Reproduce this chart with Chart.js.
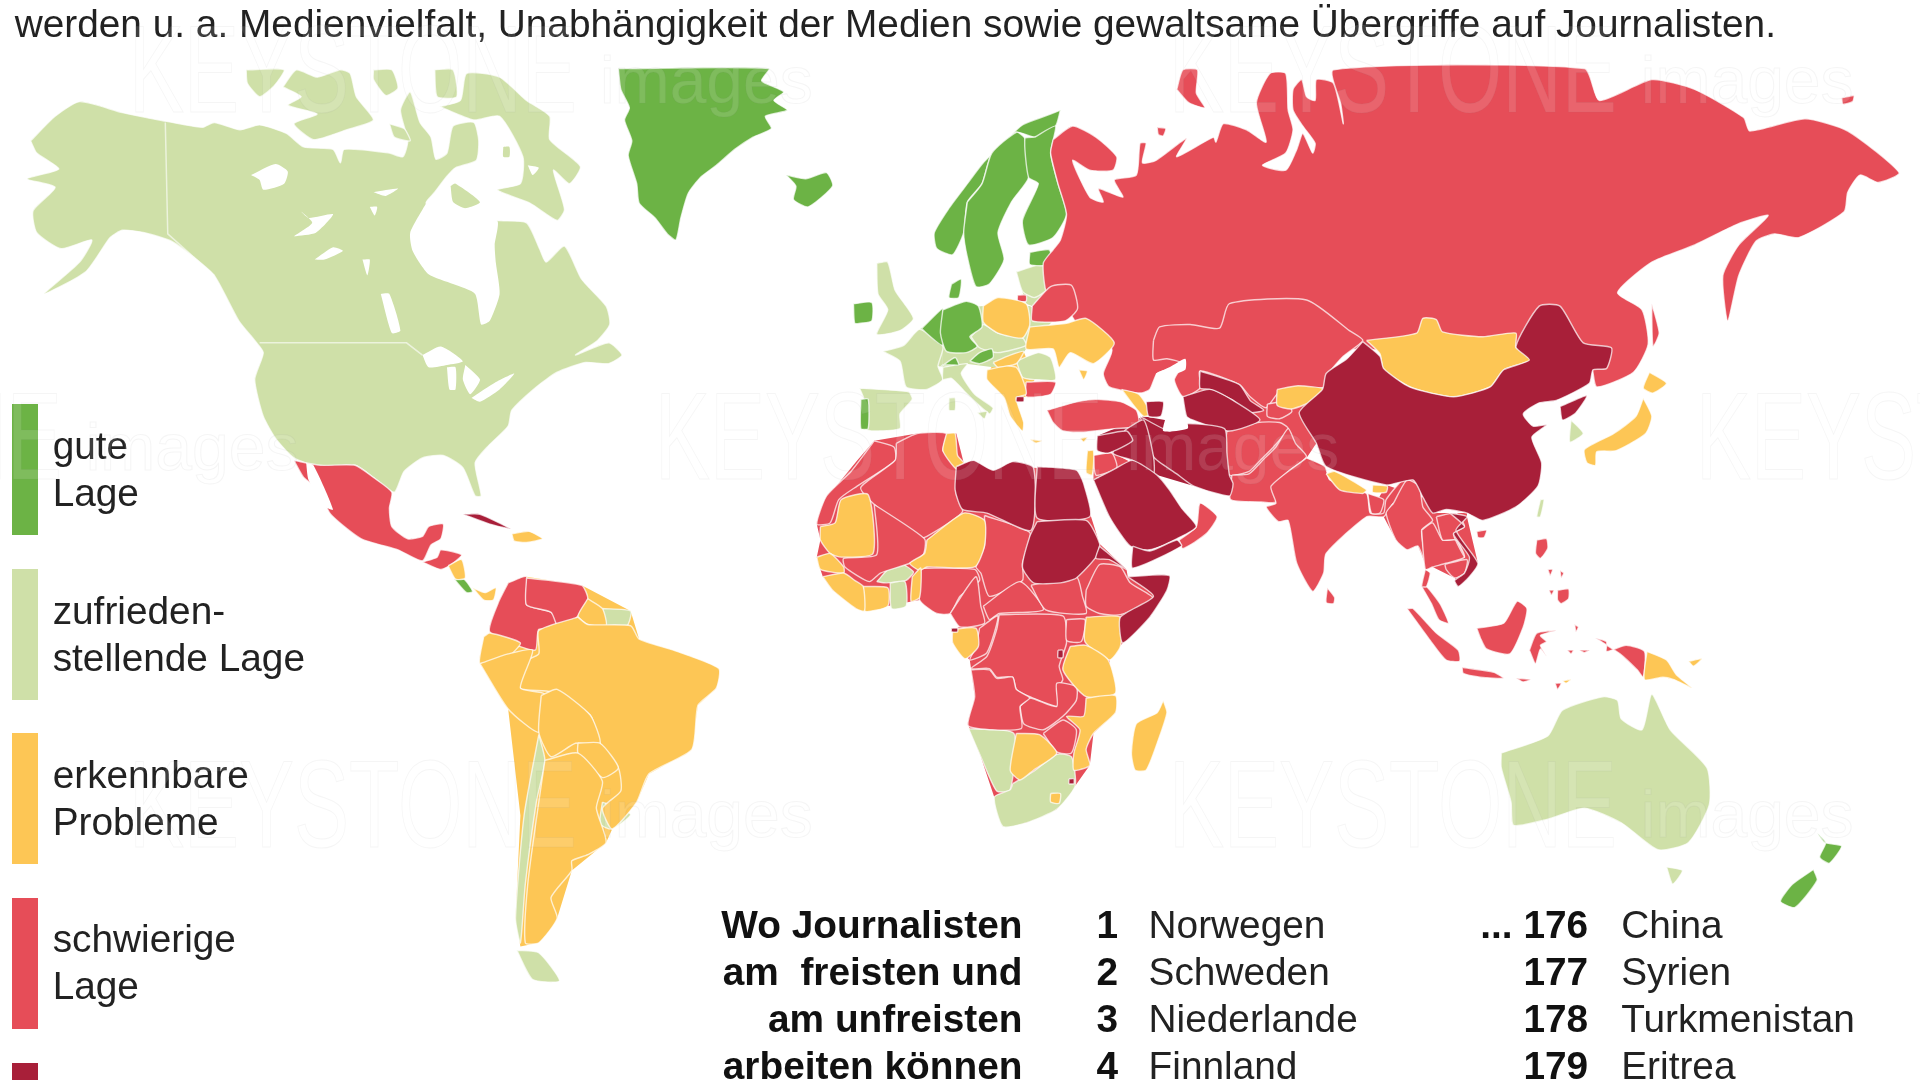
<!DOCTYPE html>
<html lang="de">
<head>
  <meta charset="UTF-8" />
  <title>Pressefreiheit weltweit</title>
  <script src="https://cdn.jsdelivr.net/npm/chart.js"></script>
  <style>
    html, body { margin: 0; padding: 0; background: #fff; }
    #stage { position: relative; width: 1920px; height: 1080px; overflow: hidden; font-family: "Liberation Sans", Arial, sans-serif; color: #222; }
    #map { position: absolute; left: 0; top: 0; filter: blur(0.7px); }
    .txt { position: absolute; white-space: pre; line-height: 1; font-size: 38.8px; transform: translateY(-50%); filter: blur(0.5px); }
    .bold { font-weight: bold; color: #111; }
    .right { transform: translate(-100%, -50%); }
    .swatch { position: absolute; width: 26px; }
    .mark { position: absolute; white-space: pre; color: rgba(255,255,255,0.13); -webkit-text-stroke: 1px rgba(130,130,130,0.08); transform-origin: left top; line-height: 1; }
  </style>
</head>
<body>
<div id="stage">
  <canvas id="map" width="1920" height="1080"></canvas>
</div>
<script>
  const titleLine = 'werden u. a. Medienvielfalt, Unabhängigkeit der Medien sowie gewaltsame Übergriffe auf Journalisten.';
  const legendLabels = [['gute', 'Lage'], ['zufrieden-', 'stellende Lage'], ['erkennbare', 'Probleme'], ['schwierige', 'Lage']];
  const headLines = ['Wo Journalisten', 'am  freisten und', 'am unfreisten', 'arbeiten können'];
  const topRanks = ['1', '2', '3', '4'];
  const topNames = ['Norwegen', 'Schweden', 'Niederlande', 'Finnland'];
  const lowRanks = ['... 176', '177', '178', '179'];
  const lowNames = ['China', 'Syrien', 'Turkmenistan', 'Eritrea'];

  const GOOD = '#6cb345', OK = '#cfe0a8', PROBLEM = '#fdc655', HARD = '#e64d58', WORST = '#a81f39';

  // Nordamerika
  const northAmerica = [[25,115],[45,95],[65,83],[100,92],[130,98],[165,104],[175,100],[196,106],[212,102],[234,109],[248,120],[272,122],[278,133],[281,122],[318,125],[329,128],[333,115],[327,90],[335,75],[343,100],[352,112],[356,130],[365,125],[370,103],[387,100],[391,115],[389,131],[372,137],[365,144],[355,157],[348,166],[372,172],[406,180],[430,182],[441,204],[446,214],[461,201],[475,228],[495,250],[498,265],[488,278],[470,290],[497,280],[508,290],[497,297],[478,296],[455,304],[438,316],[418,335],[415,348],[398,365],[388,378],[393,405],[388,405],[378,382],[362,372],[345,374],[330,385],[322,402],[305,390],[290,380],[260,381],[240,374],[225,358],[215,340],[208,310],[215,288],[208,278],[195,262],[175,225],[158,210],[140,197],[118,190],[100,188],[90,194],[70,222],[36,240],[65,214],[75,196],[50,203],[30,190],[27,172],[45,153],[22,146],[48,138],[30,125]];
  const baffin = [[359,87],[376,82],[381,60],[408,63],[430,82],[449,95],[449,114],[474,136],[465,150],[452,139],[461,171],[455,180],[433,166],[406,155],[425,150],[427,128],[408,95],[387,98]];
  const banks = [[201,57],[232,57],[224,70],[212,79],[202,68]];
  const victoria = [[231,71],[242,57],[259,63],[278,57],[286,60],[291,79],[305,98],[283,106],[256,114],[240,101],[259,93],[235,86],[246,79]];
  const arctic3 = [[305,57],[320,57],[325,72],[315,78],[305,65]];
  const arctic4 = [[318,101],[330,105],[335,115],[322,112]];
  const ellesmere = [[355,57],[370,57],[373,79],[357,79]];
  const southampton = [[368,152],[372,150],[392,165],[380,170],[370,165]];
  const foxeIsle = [[411,120],[416,120],[416,128],[411,128]];
  const hudsonBay = [[348,166],[365,163],[372,170],[406,180],[404,200],[405,215],[408,240],[400,262],[393,265],[388,240],[370,232],[350,224],[337,205],[335,190]];
  const greatBear = [[205,143],[225,134],[235,140],[232,150],[215,155],[212,147]];
  const greatSlave = [[240,193],[255,182],[245,172],[252,178],[272,175],[258,190]];
  const athabasca = [[257,212],[272,202],[280,205],[265,212]];
  const reindeer = [[296,212],[302,212],[300,225]];
  const dubawnt = [[302,169],[308,169],[306,176]];
  const baffinLake = [[431,135],[440,137],[435,143]];
  const thelon = [[305,157],[325,154],[315,160]];
  const winnipeg = [[311,240],[318,240],[327,270],[320,272]];
  const superior = [[345,290],[360,283],[378,295],[365,298],[350,300]];
  const michigan = [[365,300],[372,300],[372,318],[367,318]];
  const huron = [[380,298],[392,310],[384,322],[378,310]];
  const erie = [[385,325],[405,312],[420,305],[408,318],[392,328]];
  const greenland = [[505,56],[628,56],[622,66],[640,75],[632,82],[643,90],[625,95],[630,105],[615,112],[600,122],[585,135],[572,145],[562,158],[556,178],[552,196],[545,191],[535,178],[522,166],[520,150],[513,127],[516,115],[510,98],[514,88],[507,73]];
  const iceland = [[642,143],[658,146],[675,141],[680,152],[660,169],[648,163],[650,152]];

  // Mittelamerika und Karibik
  const mexico = [[240,376],[262,380],[290,380],[305,390],[320,402],[318,415],[320,430],[333,440],[345,438],[350,430],[362,428],[360,440],[352,445],[345,458],[325,449],[295,440],[270,420],[260,400],[248,390]];
  const gulfCalifornia = [[250,378],[256,380],[272,416],[266,414],[252,392]];
  const honduras = [[345,459],[357,455],[360,449],[377,453],[370,460],[360,465]];
  const nicaragua = [[366,462],[377,457],[380,472],[372,473]];
  const costaRica = [[371,473],[379,473],[386,483],[381,484]];
  const panama = [[386,480],[396,484],[405,480],[403,490],[395,490]];
  const cuba = [[378,420],[392,420],[417,432],[400,428]];
  const hispaniola = [[418,436],[432,434],[443,440],[430,443],[420,442]];

  // Südamerika
  const southAmericaBase = [[392,542],[400,516],[407,492],[415,476],[430,471],[475,478],[515,499],[522,522],[587,546],[585,562],[570,576],[565,612],[530,632],[520,655],[500,677],[495,688],[467,711],[455,750],[440,770],[425,773],[421,750],[425,666],[415,579]];
  const colombia = [[415,476],[430,471],[430,494],[450,500],[460,515],[440,514],[437,531],[400,516],[407,492]];
  const venezuela = [[430,472],[475,478],[480,489],[472,503],[457,515],[450,500],[430,494]];
  const guyana = [[480,489],[492,497],[495,511],[480,510],[472,503]];
  const suriname = [[492,497],[515,499],[512,511],[495,511]];
  const brazil = [[472,504],[480,510],[515,511],[522,522],[550,531],[587,546],[585,562],[570,576],[565,612],[530,632],[520,655],[500,677],[492,660],[507,646],[505,627],[490,607],[482,584],[450,565],[425,562],[425,542],[440,534],[440,515]];
  const ecuador = [[395,520],[400,517],[425,525],[415,536],[392,542]];
  const peru = [[392,542],[415,534],[435,531],[425,562],[445,567],[440,598],[415,579]];
  const bolivia = [[442,568],[455,563],[482,584],[490,607],[470,607],[450,618],[440,598]];
  const paraguay = [[472,607],[490,607],[505,627],[492,635],[472,615]];
  const chile = [[440,600],[445,621],[438,655],[429,722],[425,770],[421,750],[428,666]];
  const fireland = [[422,776],[440,778],[457,801],[435,800]];
  const argentina = [[445,621],[472,615],[492,638],[487,660],[495,688],[480,698],[467,703],[467,711],[450,733],[455,750],[440,770],[429,770],[431,722],[440,655]];
  const uruguay = [[492,655],[515,665],[500,677],[490,673]];

  // Europa
  const norway = [[866,90],[853,95],[835,102],[818,118],[803,133],[790,150],[775,170],[763,190],[765,203],[778,208],[787,190],[790,165],[802,150],[810,125],[830,108],[845,112],[862,103]];
  const sweden = [[790,165],[802,150],[810,125],[830,108],[837,113],[840,145],[826,165],[815,190],[820,212],[808,232],[797,234],[790,210],[787,190]];
  const finland = [[845,112],[862,103],[858,125],[864,150],[871,175],[860,194],[840,200],[835,180],[848,150],[840,145],[837,113]];
  const denmark = [[777,232],[785,228],[783,243],[775,243]];
  const estonia = [[841,206],[857,204],[858,216],[841,216]];
  const balticBase = [[830,222],[860,215],[858,234],[843,250],[838,248]];
  const baltics = [[830,222],[845,217],[860,215],[860,232],[845,243],[835,238]];
  const kaliningrad = [[831,241],[838,241],[838,246],[831,246]];
  const britain = [[716,215],[725,214],[731,237],[746,260],[735,270],[716,273],[725,253],[717,240]];
  const ireland = [[697,248],[712,247],[712,262],[703,264],[698,264]];
  const franceBase = [[751,269],[770,253],[770,300],[766,299]];
  const europeBase = [[770,253],[803,250],[841,250],[860,262],[838,285],[830,296],[811,300],[789,297],[770,300]];
  const france = [[721,287],[738,282],[751,269],[770,283],[766,299],[770,310],[757,318],[740,316],[735,295]];
  const benelux = [[753,268],[765,256],[770,252],[770,282],[752,268]];
  const germany = [[770,253],[789,246],[799,250],[802,267],[792,275],[798,283],[789,288],[773,287],[768,272]];
  const switzerland = [[768,300],[780,292],[783,298],[778,298],[770,298]];
  const austria = [[792,295],[800,288],[810,285],[811,292],[800,297]];
  const spain = [[702,317],[742,320],[745,326],[735,338],[735,350],[712,352],[706,350],[707,330]];
  const portugal = [[703,326],[709,326],[709,350],[703,350]];
  const italy = [[770,300],[790,297],[785,305],[796,322],[811,333],[808,338],[790,322],[777,309],[770,310]];
  const sardinia = [[775,325],[780,325],[780,335],[775,335]];
  const sicily = [[798,337],[806,336],[804,342]];
  const poland = [[803,250],[815,243],[838,248],[841,265],[835,276],[815,272],[803,263]];
  const centralEurope = [[793,275],[803,265],[815,272],[835,276],[838,282],[815,288],[800,284]];
  const belarus = [[843,250],[858,234],[875,233],[880,252],[870,262],[843,262]];
  const ukraine = [[841,267],[871,264],[887,260],[910,280],[893,297],[874,288],[865,300],[860,285],[838,285]];
  const crimea = [[881,302],[888,303],[885,310]];
  const romania = [[830,295],[848,288],[858,292],[862,310],[845,310],[835,308]];
  const bulgaria = [[838,312],[862,312],[858,322],[838,324]];
  const balkanBase = [[811,296],[836,287],[845,310],[838,324],[830,325],[806,310]];
  const hungary = [[811,296],[825,290],[836,287],[830,297],[815,300]];
  const balkans = [[806,302],[822,299],[830,300],[836,312],[838,322],[830,325],[836,345],[835,352],[825,340],[820,325],[806,310]];
  const macedonia = [[830,324],[836,324],[836,328],[830,328]];
  const crete = [[841,359],[851,360],[846,362]];
  const cyprus = [[882,358],[888,357],[885,361]];

  // Russland, Vorderasien und Zentralasien
  const russia = [[860,114],[876,103],[895,112],[912,128],[909,139],[890,139],[876,131],[890,161],[901,165],[897,154],[917,161],[910,147],[928,143],[931,117],[936,117],[933,133],[944,131],[969,113],[961,128],[991,112],[993,116],[999,101],[1018,106],[1034,116],[1026,84],[1037,60],[1050,60],[1052,90],[1056,106],[1050,125],[1031,135],[1050,139],[1059,122],[1064,109],[1072,125],[1074,117],[1064,103],[1056,90],[1056,73],[1063,65],[1067,79],[1074,82],[1075,65],[1089,68],[1097,101],[1095,85],[1089,57],[1294,56],[1306,82],[1349,65],[1384,73],[1424,96],[1429,107],[1474,97],[1509,107],[1551,141],[1534,149],[1519,143],[1509,157],[1506,173],[1469,194],[1449,191],[1434,197],[1420,225],[1411,262],[1407,225],[1420,200],[1444,176],[1419,183],[1384,200],[1349,214],[1321,239],[1341,253],[1346,281],[1334,304],[1304,316],[1300,300],[1290,285],[1260,270],[1244,285],[1200,295],[1114,285],[1060,290],[1000,290],[960,300],[945,305],[939,318],[931,321],[906,316],[901,305],[908,285],[880,265],[870,250],[855,240],[852,215],[860,204],[866,196],[871,175],[864,150],[858,125]];
  const novayaZemlya = [[961,73],[966,57],[978,57],[977,76],[984,88],[971,84]];
  const kolguev = [[945,104],[952,105],[950,111],[946,110]];
  const wrangel = [[1504,80],[1514,78],[1513,83],[1505,85]];
  const sakhalin = [[1349,248],[1355,272],[1350,283],[1349,261]];
  const kazakhstan = [[942,278],[947,267],[972,265],[996,268],[1004,248],[1067,245],[1102,270],[1113,278],[1097,291],[1086,304],[1083,316],[1045,320],[1034,333],[1021,324],[1012,314],[980,303],[980,317],[966,324],[959,310],[966,297],[953,293],[942,294]];
  const centralAsiaBase = [[966,324],[980,303],[1083,316],[1075,362],[1067,374],[1040,397],[1042,411],[1005,408],[1002,352]];
  const uzbekistan = [[980,303],[1012,314],[1021,327],[1032,335],[1018,337],[1007,327],[988,318],[980,317]];
  const turkmenistan = [[966,324],[988,318],[1007,327],[1029,343],[1004,352],[974,343],[969,340]];
  const kyrgyzstan = [[1043,318],[1060,315],[1083,318],[1075,326],[1055,334],[1043,331]];
  const tajikistan = [[1035,330],[1050,328],[1055,336],[1045,342],[1035,340]];
  const afghanistan = [[1002,352],[1027,345],[1045,345],[1052,350],[1040,365],[1030,375],[1020,385],[1004,388],[1000,370]];
  const pakistan = [[1006,388],[1020,387],[1032,375],[1042,365],[1052,350],[1058,362],[1067,373],[1052,385],[1040,397],[1042,410],[1030,410],[1005,408]];
  const midEastBase = [[896,356],[934,340],[1002,352],[1007,395],[1004,405],[975,397],[942,387],[925,376],[909,370]];
  const levantBase = [[893,372],[909,370],[942,387],[945,388],[912,382],[893,392]];
  const iran = [[931,340],[955,352],[966,346],[1000,350],[1002,370],[1004,388],[1007,395],[1004,405],[975,397],[961,387],[942,373]];
  const iraq = [[919,351],[934,343],[942,373],[942,387],[925,376],[909,370]];
  const syria = [[896,356],[920,352],[925,360],[905,370],[896,368]];
  const lebanon = [[888,368],[893,368],[892,388],[887,386]];
  const jordan = [[893,372],[908,370],[912,382],[895,388]];
  const saudi = [[893,392],[912,382],[925,376],[945,388],[955,400],[965,415],[977,430],[961,440],[939,449],[923,446],[906,422]];
  const yemen = [[925,446],[939,450],[961,441],[965,446],[925,464]];
  const oman = [[963,441],[977,430],[980,411],[994,422],[985,436],[966,448]];
  const turkey = [[855,335],[880,328],[895,326],[915,328],[928,335],[930,348],[910,350],[885,353],[868,352],[860,345]];
  const georgia = [[916,318],[930,322],[940,338],[934,340],[925,330]];
  const azerbaijan = [[936,328],[950,328],[948,340],[938,340]];
  const caspian = [[944,305],[955,300],[968,293],[968,302],[955,308],[958,325],[968,340],[970,350],[950,352],[952,340],[950,325],[943,315]];

  // Afrika
  const africaBase = [[667,428],[678,403],[700,376],[714,360],[749,354],[781,354],[787,378],[811,384],[844,382],[879,384],[898,444],[920,465],[921,471],[955,470],[953,482],[939,504],[917,525],[906,539],[911,582],[893,599],[890,625],[878,642],[863,661],[838,672],[819,675],[812,651],[801,618],[791,593],[796,569],[793,546],[792,539],[778,525],[778,514],[784,512],[776,501],[765,501],[751,490],[725,495],[706,499],[699,497],[680,482],[672,471],[670,465],[667,455],[670,441]];
  const morocco = [[714,360],[730,365],[731,376],[700,397],[685,408],[678,427],[667,428],[675,405],[695,385]];
  const algeria = [[732,362],[749,354],[773,354],[770,368],[781,378],[781,403],[786,418],[757,438],[748,440],[713,411],[703,398],[731,376]];
  const tunisia = [[773,354],[780,354],[782,372],[787,378],[781,383],[770,368]];
  const libya = [[781,381],[795,376],[811,384],[827,377],[844,382],[842,433],[806,419],[786,416],[780,400]];
  const egypt = [[847,381],[879,384],[885,395],[890,422],[847,423]];
  const sudan = [[847,426],[887,425],[898,444],[895,455],[879,472],[866,476],[844,476],[835,463],[841,438]];
  const eritrea = [[898,446],[920,465],[906,457],[895,456]];
  const somalia = [[921,471],[955,470],[953,482],[939,504],[917,525],[915,504],[942,487]];
  const ethiopia = [[887,482],[898,461],[915,463],[923,476],[942,489],[915,502],[898,501],[887,495]];
  const mauritania = [[670,430],[682,427],[687,408],[709,404],[713,452],[687,455],[678,452],[670,441]];
  const mali = [[714,412],[755,440],[754,453],[743,460],[719,468],[710,475],[690,463],[689,456],[716,453]];
  const niger = [[757,441],[787,419],[804,425],[804,446],[796,463],[757,463],[751,466],[743,460],[755,452]];
  const chad = [[804,421],[841,435],[835,460],[835,474],[808,487],[801,468],[797,463],[804,446]];
  const nigeria = [[752,464],[796,465],[800,474],[784,487],[776,501],[765,501],[751,490]];
  const burkina = [[716,475],[732,459],[746,467],[740,474],[724,476]];
  const ghana = [[727,476],[739,475],[740,495],[728,497]];
  const benin = [[745,471],[752,464],[751,488],[744,491]];
  const ivoryCoast = [[705,479],[725,480],[725,495],[706,499]];
  const senegal = [[667,455],[678,452],[689,463],[689,468],[670,465]];
  const guinea = [[672,471],[689,468],[698,474],[705,479],[706,499],[699,497],[680,482]];
  const cameroon = [[776,501],[797,471],[801,495],[804,509],[784,512]];
  const centralAfrica = [[803,495],[833,475],[852,498],[816,501],[808,506]];
  const southSudan = [[842,478],[879,471],[884,487],[887,501],[854,498]];
  const congoDR = [[816,502],[868,503],[871,525],[865,544],[868,555],[863,563],[865,577],[841,569],[830,563],[827,553],[814,553],[808,546],[793,546],[806,536],[814,514]];
  const congo = [[800,513],[815,503],[806,533],[792,539],[797,528]];
  const gabon = [[778,514],[797,513],[799,528],[788,538],[778,525]];
  const uganda = [[871,506],[886,506],[883,524],[871,523]];
  const kenya = [[887,504],[915,504],[915,528],[906,539],[886,524]];
  const tanzania = [[874,528],[887,527],[905,539],[911,566],[887,569],[868,547]];
  const mozambique = [[887,570],[911,568],[911,582],[893,599],[887,612],[890,625],[877,629],[877,615],[882,596],[871,585],[885,585]];
  const zambia = [[833,577],[841,570],[863,577],[863,558],[879,561],[879,572],[868,585],[852,596],[836,591]];
  const zimbabwe = [[852,599],[868,588],[879,596],[875,615],[863,614]];
  const angola = [[793,547],[808,547],[814,554],[827,553],[830,563],[841,570],[833,577],[834,595],[791,593],[796,569]];
  const namibia = [[791,595],[828,599],[825,645],[814,646],[801,618]];
  const botswana = [[830,599],[849,600],[863,615],[844,629],[833,637],[825,629]];
  const southAfrica = [[827,640],[844,630],[863,616],[875,618],[878,642],[863,661],[838,672],[819,675],[812,651],[825,645]];
  const lesotho = [[858,648],[866,648],[865,656],[858,655]];
  const swaziland = [[873,636],[877,636],[877,640],[873,640]];
  const rwanda = [[864,531],[868,531],[868,537],[864,537]];
  const eqGuinea = [[777,513],[782,513],[782,516],[777,516]];
  const madagascar = [[950,572],[953,582],[945,607],[936,629],[927,629],[924,615],[928,591],[945,582]];

  // Süd- und Ostasien
  const china = [[1113,279],[1127,291],[1130,301],[1151,316],[1187,324],[1217,316],[1228,302],[1249,294],[1238,283],[1257,250],[1274,250],[1293,280],[1316,284],[1312,301],[1301,302],[1298,313],[1271,327],[1257,329],[1244,338],[1252,348],[1263,347],[1251,357],[1259,378],[1256,397],[1238,414],[1211,425],[1198,419],[1181,416],[1170,419],[1162,406],[1154,392],[1132,396],[1083,381],[1075,362],[1061,337],[1080,318],[1083,305],[1100,293]];
  const mongolia = [[1116,278],[1157,272],[1162,260],[1173,261],[1178,271],[1211,275],[1238,272],[1238,284],[1253,293],[1228,302],[1217,316],[1187,324],[1154,317],[1130,302],[1127,289]];
  const northKorea = [[1274,332],[1296,323],[1287,337],[1276,343]];
  const southKorea = [[1283,343],[1293,354],[1282,361]];
  const hokkaido = [[1347,304],[1361,313],[1350,321],[1342,317]];
  const honshu = [[1342,325],[1349,340],[1344,354],[1320,368],[1304,369],[1303,380],[1296,378],[1294,367],[1318,354],[1336,340]];
  const taiwan = [[1258,408],[1261,408],[1258,422],[1255,422]];
  const hainan = [[1206,434],[1214,433],[1212,439],[1207,439]];
  const seAsiaBase = [[1132,396],[1162,406],[1170,419],[1198,419],[1198,422],[1207,460],[1191,479],[1188,472],[1170,463],[1165,463],[1158,446],[1140,441],[1130,422],[1119,419]];
  const india = [[1067,374],[1082,381],[1086,392],[1116,403],[1119,419],[1130,419],[1132,408],[1149,389],[1159,397],[1149,411],[1138,411],[1130,422],[1116,422],[1083,452],[1081,468],[1072,483],[1059,460],[1052,425],[1044,426],[1034,414],[1042,411],[1038,397]];
  const nepal = [[1083,387],[1090,385],[1116,400],[1113,403],[1094,400]];
  const bhutan = [[1121,396],[1133,397],[1132,402],[1121,402]];
  const bangladesh = [[1117,403],[1130,408],[1127,419],[1120,419]];
  const sriLanka = [[1084,480],[1090,488],[1089,493],[1083,492]];
  const myanmar = [[1138,411],[1149,392],[1159,397],[1162,414],[1170,425],[1161,433],[1165,463],[1158,446],[1149,449],[1140,441],[1132,419]];
  const thailand = [[1161,433],[1170,427],[1178,441],[1189,441],[1196,455],[1181,460],[1170,463],[1164,465]];
  const malaya = [[1161,479],[1165,479],[1176,493],[1183,509],[1175,506],[1169,493]];
  const kraNeck = [[1164,465],[1168,468],[1165,479],[1161,479]];
  const laos = [[1173,422],[1189,419],[1196,430],[1187,436],[1196,455],[1189,441],[1178,441]];
  const vietnam = [[1184,419],[1198,422],[1189,433],[1207,460],[1200,471],[1191,479],[1188,474],[1196,468],[1200,455],[1187,436],[1196,430]];
  const cambodia = [[1180,461],[1198,457],[1196,468],[1188,472],[1181,465]];

  // Inseln und Ozeanien
  const sumatra = [[1149,497],[1154,497],[1173,517],[1191,531],[1192,540],[1181,539],[1168,523]];
  const java = [[1194,545],[1220,549],[1228,554],[1209,553],[1195,550]];
  const borneo = [[1206,513],[1228,509],[1239,491],[1247,497],[1244,512],[1233,534],[1214,530],[1209,521]];
  const sulawesi = [[1249,531],[1255,517],[1271,515],[1258,519],[1263,524],[1258,527],[1263,536],[1258,530],[1254,542]];
  const luzon = [[1255,441],[1263,440],[1264,448],[1258,456],[1254,452]];
  const visayas1 = [[1264,465],[1268,465],[1266,470]];
  const visayas2 = [[1274,466],[1277,468],[1275,472]];
  const visayas3 = [[1265,482],[1269,482],[1267,486]];
  const mindanao = [[1272,482],[1281,481],[1281,489],[1275,493],[1272,490]];
  const moluccas1 = [[1280,531],[1285,531],[1283,534]];
  const moluccas2 = [[1290,531],[1298,531],[1294,533]];
  const halmahera = [[1286,510],[1289,512],[1287,516]];
  const sunda = [[1238,554],[1250,555],[1244,557]];
  const timor = [[1270,558],[1275,558],[1272,563]];
  const timorEast = [[1276,556],[1283,555],[1279,558]];
  const papua = [[1303,521],[1312,524],[1312,532],[1328,527],[1343,532],[1342,553],[1337,547],[1323,534]];
  const newGuinea = [[1345,532],[1361,539],[1369,551],[1382,562],[1367,555],[1358,553],[1343,555]];
  const newBritain = [[1379,540],[1390,538],[1383,544]];
  const australia = [[1226,615],[1264,601],[1276,580],[1309,569],[1321,572],[1324,587],[1341,596],[1349,567],[1364,596],[1394,627],[1396,657],[1379,688],[1354,694],[1324,672],[1294,660],[1264,669],[1236,674],[1234,655],[1226,627]];
  const tasmania = [[1361,708],[1374,711],[1366,722]];
  const nzNorth = [[1484,680],[1490,688],[1504,691],[1494,705],[1486,700],[1491,688]];
  const nzSouth = [[1481,710],[1484,719],[1466,741],[1454,736],[1464,722]];

  // Grenzlinien ohne Fläche
  const alaskaBorder = [[135,100],[137,191],[175,225]];
  const usBorder = [[212,280],[332,280],[345,290]];

  const hardBases = [africaBase, centralAsiaBase, seAsiaBase, levantBase];
  const worstBases = [midEastBase];
  const problemBases = [southAmericaBase, balkanBase];
  const okBases = [europeBase, franceBase, balticBase];

  const goodShapes = [greenland, iceland, norway, sweden, finland, denmark, estonia, ireland, benelux, germany, switzerland, austria, portugal, costaRica, nzNorth, nzSouth];
  const okShapes = [northAmerica, baffin, banks, victoria, arctic3, arctic4, ellesmere, baltics, britain, france, spain, italy, sardinia, sicily, centralEurope, romania, chile, fireland, uruguay, suriname, burkina, ghana, namibia, southAfrica, southKorea, taiwan, australia, tasmania];
  const problemShapes = [nicaragua, panama, hispaniola, guyana, brazil, ecuador, peru, bolivia, paraguay, argentina, poland, ukraine, crimea, hungary, balkans, crete, cyprus, georgia, tunisia, mauritania, niger, benin, ivoryCoast, senegal, guinea, gabon, kenya, tanzania, mozambique, botswana, lesotho, madagascar, mongolia, kyrgyzstan, nepal, bhutan, hokkaido, honshu, newGuinea, newBritain, timorEast];
  const hardShapes = [russia, novayaZemlya, kolguev, wrangel, sakhalin, kazakhstan, tajikistan, afghanistan, pakistan, turkey, jordan, oman, belarus, bulgaria, kaliningrad, mexico, honduras, colombia, venezuela, morocco, algeria, ethiopia, mali, chad, nigeria, cameroon, centralAfrica, southSudan, congoDR, congo, uganda, zambia, zimbabwe, angola, india, bangladesh, sriLanka, myanmar, thailand, malaya, kraNeck, laos, cambodia, hainan, sumatra, java, borneo, sulawesi, luzon, visayas1, visayas2, visayas3, mindanao, moluccas1, moluccas2, halmahera, sunda, timor, papua];
  const worstShapes = [cuba, macedonia, uzbekistan, turkmenistan, iran, iraq, syria, saudi, yemen, azerbaijan, libya, egypt, sudan, eritrea, somalia, swaziland, rwanda, eqGuinea, china, northKorea, vietnam];
  const waterShapes = [hudsonBay, greatBear, greatSlave, athabasca, reindeer, dubawnt, baffinLake, thelon, winnipeg, superior, michigan, huron, erie, gulfCalifornia, caspian];
  const borderLines = [alaskaBorder, usBorder];
  const lateProblem = [lebanon];
  const lateOk = [southampton, foxeIsle];

  function toPoints(list, close) {
    const pts = list.map(p => ({ x: p[0], y: p[1] }));
    if (close) pts.push({ x: list[0][0], y: list[0][1] });
    return pts;
  }

  const datasets = [];
  function addShapes(shapes, color, line, bend) {
    shapes.forEach(s => datasets.push({
      data: toPoints(s, true),
      showLine: true,
      fill: 'shape',
      backgroundColor: color,
      borderColor: line,
      borderWidth: line === color ? 0 : 1.4,
      pointRadius: 0,
      tension: bend
    }));
  }
  const seam = 'rgba(255,255,255,0.72)';
  addShapes(hardBases, HARD, HARD, 0);
  addShapes(worstBases, WORST, WORST, 0);
  addShapes(problemBases, PROBLEM, PROBLEM, 0);
  addShapes(okBases, OK, OK, 0);
  addShapes(okShapes, OK, seam, 0.2);
  addShapes(goodShapes, GOOD, seam, 0.2);
  addShapes(hardShapes, HARD, seam, 0.2);
  addShapes(problemShapes, PROBLEM, seam, 0.2);
  addShapes(worstShapes, WORST, seam, 0.2);
  addShapes(lateProblem, PROBLEM, seam, 0.2);
  addShapes(waterShapes, '#ffffff', '#ffffff', 0.2);
  addShapes(lateOk, OK, OK, 0.2);
  borderLines.forEach(l => datasets.push({
    data: toPoints(l, false), showLine: true, fill: false,
    borderColor: 'rgba(255,255,255,0.6)', borderWidth: 1.5, pointRadius: 0
  }));
  // spätere Einträge liegen oben
  datasets.forEach((d, i) => { d.order = datasets.length - i; });

  new Chart(document.getElementById('map').getContext('2d'), {
    type: 'scatter',
    data: { datasets },
    options: {
      responsive: false,
      animation: false,
      events: [],
      layout: { padding: 0 },
      plugins: { legend: { display: false }, tooltip: { enabled: false } },
      scales: {
        x: { type: 'linear', min: 0, max: 1568, display: false },
        y: { type: 'linear', min: 0, max: 882, reverse: true, display: false }
      }
    }
  });

  // Texte und Legende
  const stage = document.getElementById('stage');
  const K = 1920 / 1568;
  function put(text, x, y, cls) {
    const el = document.createElement('div');
    el.className = 'txt ' + (cls || '');
    el.textContent = text;
    el.style.left = (x * K) + 'px';
    el.style.top = (y * K) + 'px';
    stage.appendChild(el);
  }
  put(titleLine, 12, 20);

  const swatchTops = [330, 465, 599, 733, 868];
  const swatchColors = [GOOD, OK, PROBLEM, HARD, WORST];
  swatchTops.forEach((t, i) => {
    const el = document.createElement('div');
    el.className = 'swatch';
    el.style.left = (10 * K) + 'px';
    el.style.top = (t * K) + 'px';
    el.style.height = (107 * K) + 'px';
    el.style.background = swatchColors[i];
    stage.appendChild(el);
  });
  legendLabels.forEach((rows, i) => {
    rows.forEach((r, j) => put(r, 43, swatchTops[i] + 34 + j * 38.5));
  });

  const rowY = [755.5, 794, 832, 870.5];
  headLines.forEach((t, i) => put(t, 835, rowY[i], 'bold right'));
  topRanks.forEach((t, i) => put(t, 913, rowY[i], 'bold right'));
  topNames.forEach((t, i) => put(t, 938, rowY[i]));
  lowRanks.forEach((t, i) => put(t, 1297, rowY[i], 'bold right'));
  lowNames.forEach((t, i) => put(t, 1324, rowY[i]));

  // Wasserzeichen
  const markSpots = [[105, 5], [955, 5], [-315, 305], [535, 305], [1385, 305], [105, 605], [955, 605]];
  markSpots.forEach(p => {
    const a = document.createElement('div');
    a.className = 'mark';
    a.textContent = 'KEYSTONE';
    a.style.left = (p[0] * K) + 'px';
    a.style.top = (p[1] * K) + 'px';
    a.style.fontSize = '125px';
    a.style.transform = 'scaleX(0.66)';
    stage.appendChild(a);
    const b = document.createElement('div');
    b.className = 'mark';
    b.textContent = 'images';
    b.style.left = ((p[0] + 385) * K) + 'px';
    b.style.top = ((p[1] + 33) * K) + 'px';
    b.style.fontSize = '66px';
    stage.appendChild(b);
  });
</script>
</body>
</html>
